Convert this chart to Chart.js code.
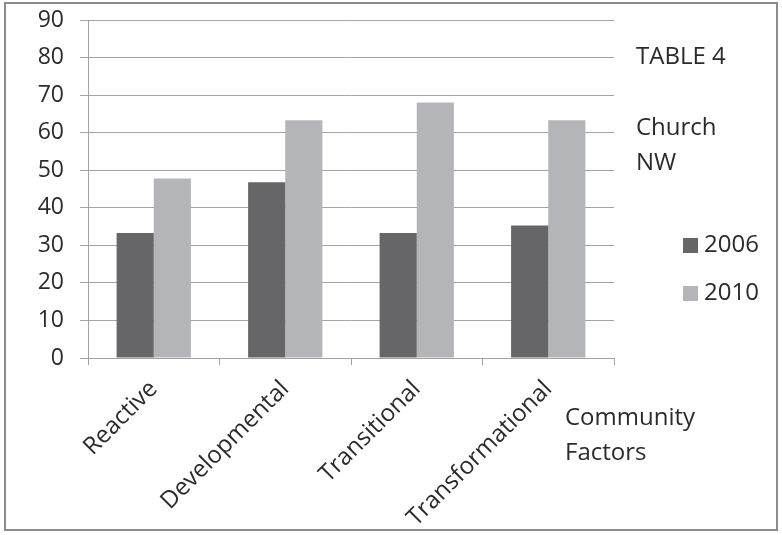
<!DOCTYPE html>
<html>
<head>
<meta charset="utf-8">
<script src="https://cdn.jsdelivr.net/npm/chart.js@4/dist/chart.umd.min.js"></script>
<style>
  html, body { margin: 0; padding: 0; background: #fff; }
  #wrap { position: relative; width: 782px; height: 535px; }
</style>
</head>
<body>
<div id="wrap"><canvas id="chart" width="782" height="535"></canvas></div>
<script>
const categories = ['Reactive', 'Developmental', 'Transitional', 'Transformational'];
const values2006 = [33.3, 46.8, 33.3, 35.3];
const values2010 = [47.8, 63.3, 68.0, 63.3];
const yTicks = [0, 10, 20, 30, 40, 50, 60, 70, 80, 90];

const FONT = '"Open Sans", "Liberation Sans", sans-serif';
const TEXT = '#2b2b2b';
const GRID = '#a3a3a3';

// side text, legend and frame drawn straight on the canvas
const sideText = {
  id: 'sideText',
  afterDraw(chart) {
    const ctx = chart.ctx;
    ctx.save();
    ctx.strokeStyle = '#8c8c8c';
    ctx.lineWidth = 2;
    ctx.strokeRect(5, 3, 772, 527);

    ctx.fillStyle = TEXT;
    ctx.font = '24px ' + FONT;
    ctx.textBaseline = 'middle';
    ctx.textAlign = 'left';
    ctx.fillText('TABLE 4', 636, 57);
    ctx.fillText('Church', 636, 128);
    ctx.fillText('NW', 636, 163);
    ctx.fillText('Community', 565, 418);
    ctx.fillText('Factors', 565, 453);

    chart.data.datasets.forEach((ds, i) => {
      const y = 245 + i * 48;
      ctx.fillStyle = ds.backgroundColor;
      ctx.fillRect(683, y - 7, 15, 15);
      ctx.fillStyle = TEXT;
      ctx.fillText(ds.label, 704, y);
    });
    ctx.restore();
  }
};

new Chart(document.getElementById('chart'), {
  type: 'bar',
  data: {
    labels: categories,
    datasets: [
      { label: '2006', data: values2006, backgroundColor: '#666668' },
      { label: '2010', data: values2010, backgroundColor: '#b4b5b8' }
    ]
  },
  options: {
    responsive: false,
    animation: false,
    events: [],
    layout: { padding: { top: 20, right: 168, left: 0, bottom: 0 } },
    datasets: { bar: { barPercentage: 1, categoryPercentage: 0.565 } },
    plugins: { legend: { display: false }, tooltip: { enabled: false } },
    scales: {
      x: {
        grid: { drawOnChartArea: false, color: GRID, tickLength: 7, offset: true },
        border: { color: GRID },
        ticks: {
          color: TEXT,
          font: { family: FONT, size: 24 },
          minRotation: 45,
          maxRotation: 45,
          padding: 10
        },
        afterFit(scale) { scale.height = 177; }
      },
      y: {
        min: 0,
        max: 90,
        afterBuildTicks(scale) { scale.ticks = yTicks.map(v => ({ value: v })); },
        grid: { color: GRID, tickLength: 8 },
        border: { color: GRID },
        ticks: {
          color: TEXT,
          font: { family: FONT, size: 23 },
          padding: 16
        },
        afterFit(scale) {
          scale.width = 88;
          scale.paddingTop = 0;
          scale.paddingBottom = 0;
        }
      }
    }
  },
  plugins: [sideText]
});
</script>
</body>
</html>
